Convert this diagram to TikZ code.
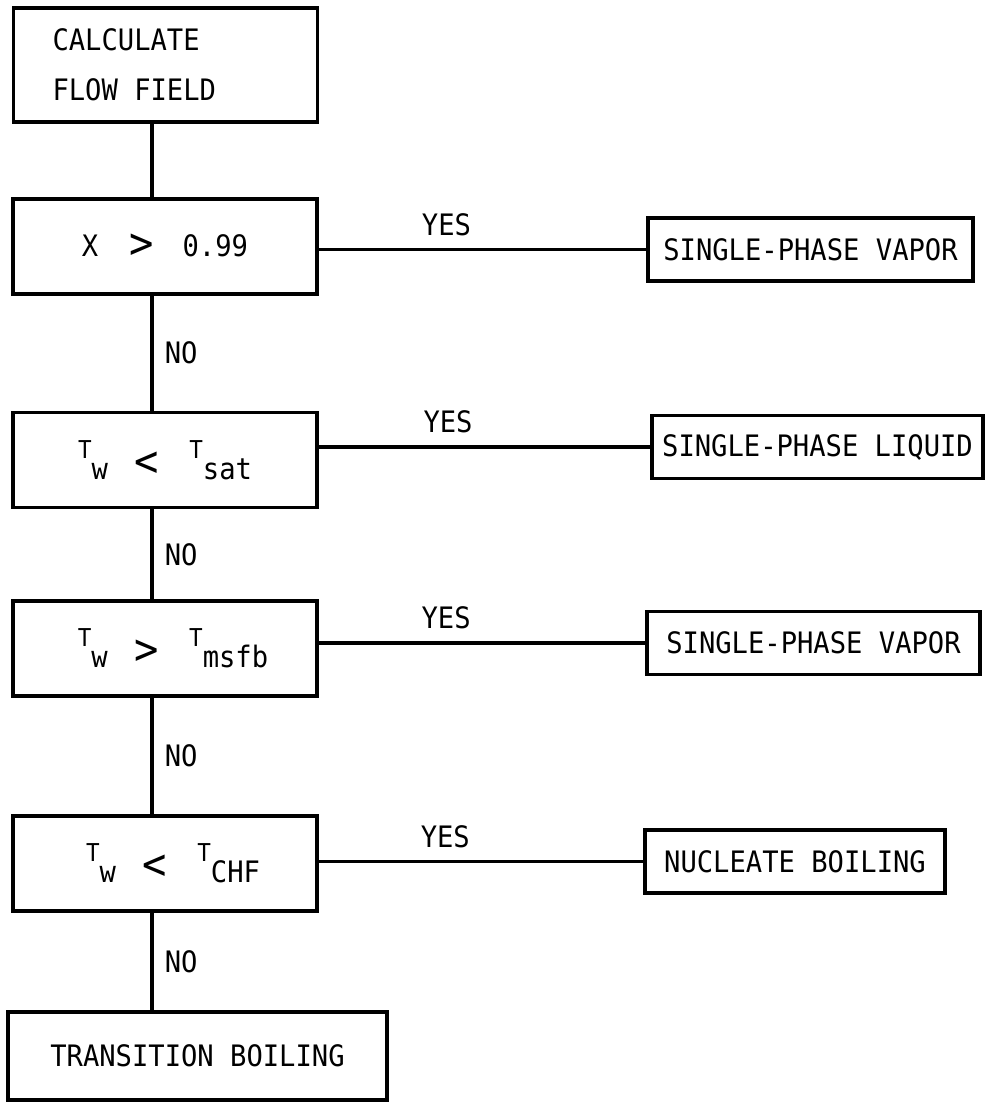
\documentclass[tikz,border=0pt]{standalone}
\usepackage{fontspec}
\usepackage{graphicx}
\usetikzlibrary{positioning,calc}
\setmonofont[FakeStretch=0.92]{DejaVu Sans Mono}
\newcommand{\Tsub}[1]{\raisebox{6pt}{\fontsize{7}{7}\selectfont T}#1}
\newcommand{\relsym}[2][0pt]{\raisebox{#1}{\fontsize{12.5}{12.5}\selectfont #2}}

\begin{document}
\begin{tikzpicture}[font=\ttfamily\fontsize{8.4}{14.2}\selectfont,
    line width=1pt,
    test/.style={draw, inner sep=0pt, minimum width=3.04cm, minimum height=0.95cm},
    outcome/.style={draw, inner sep=0pt, minimum height=0.63cm},
    yeslbl/.style={above=0.12cm, inner sep=0pt, pos=0.39},
    nolbl/.style={right=0.11cm, inner sep=0pt}]
\useasboundingbox (0,0) rectangle (9.84,-11.03);
\coordinate (spine) at (1.52,0);
% decision column
\node[test, minimum height=1.14cm, inner xsep=0.39cm, text width=2.26cm, align=left] (flow) at (1.655,-0.65) {\spaceskip=0pt CALCULATE\\FLOW FIELD};
\node[test] (x99) at (1.65,-2.465) {X\hspace{0.31cm}\relsym[-0.7pt]{>}\hspace{0.29cm}0.99};
\node[test] (tsat) at (1.65,-4.60) {\Tsub{w}\hspace{0.27cm}\relsym[0.9pt]{<}\hspace{0.30cm}\Tsub{sat}};
\node[test] (tmsfb) at (1.65,-6.485) {\hspace{0.16cm}\Tsub{w}\hspace{0.27cm}\relsym[0.9pt]{>}\hspace{0.30cm}\Tsub{msfb}};
\node[test] (tchf) at (1.65,-8.635) {\hspace{0.16cm}\Tsub{w}\hspace{0.27cm}\relsym[0.9pt]{<}\hspace{0.30cm}\Tsub{CHF}};
\node[test, minimum width=3.79cm, minimum height=0.88cm] (trans) at (1.975,-10.56) {TRANSITION BOILING};
% outcomes
\node[outcome, minimum width=3.25cm] (vap1) at (8.105,-2.495) {SINGLE-PHASE VAPOR};
\node[outcome, minimum width=3.31cm] (liq) at (8.175,-4.47) {SINGLE-PHASE LIQUID};
\node[outcome, minimum width=3.33cm] (vap2) at (8.135,-6.43) {SINGLE-PHASE VAPOR};
\node[outcome, minimum width=3.00cm] (nucl) at (7.95,-8.615) {NUCLEATE BOILING};
% connectors
\draw (flow.south -| spine) -- (x99.north -| spine);
\foreach \a/\b/\n in {x99/tsat/1,tsat/tmsfb/2,tmsfb/tchf/3,tchf/trans/4}
    \draw (\a.south -| spine) -- node[nolbl] (no\n) {NO} (\b.north -| spine);
\foreach \a/\b/\n in {x99/vap1/1,tsat/liq/2,tmsfb/vap2/3,tchf/nucl/4}
    \draw (\a.east |- \b.west) -- node[yeslbl] (yes\n) {YES} (\b.west);
\end{tikzpicture}
\end{document}
